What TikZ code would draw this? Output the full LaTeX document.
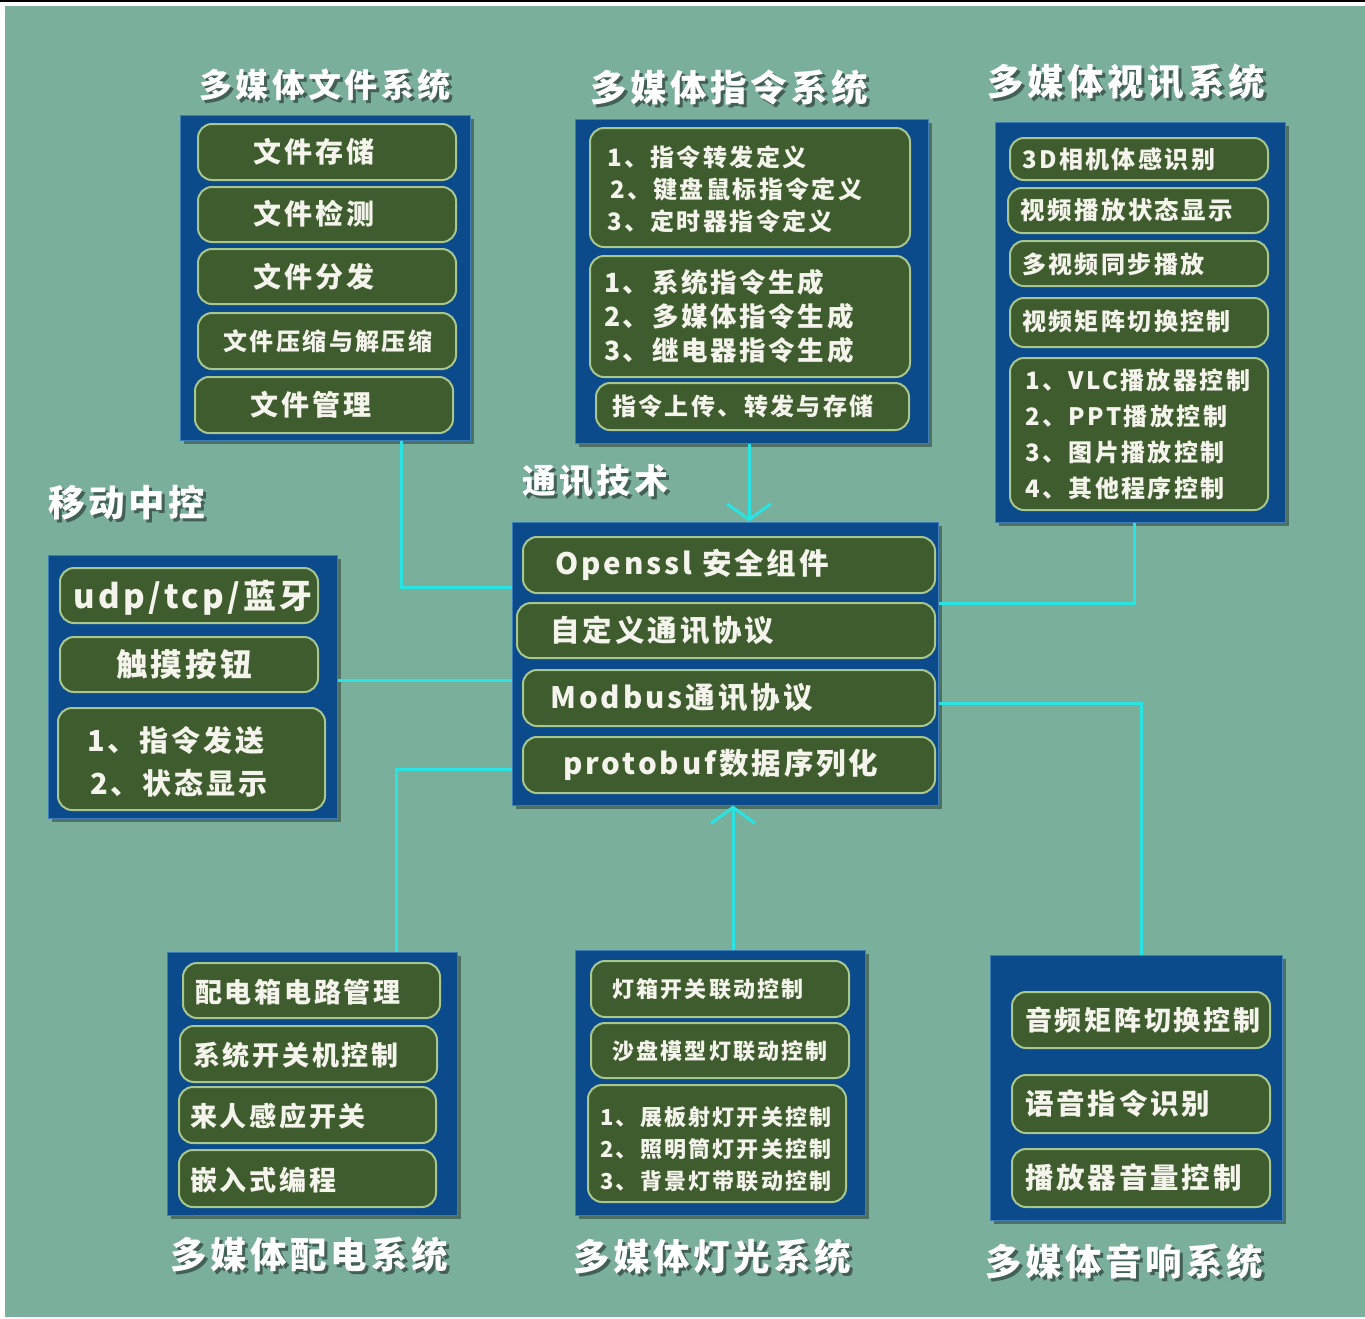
\documentclass[tikz,border=0pt]{standalone}
\usepackage{fontspec}
\setmainfont{Noto Sans CJK SC}[LetterSpace=10]
\usetikzlibrary{fit,arrows.meta,shadows}
\definecolor{bgg}{HTML}{7AAF9B}
\definecolor{panelc}{HTML}{0B4A8B}
\definecolor{panelb}{HTML}{3E7DB5}
\definecolor{itemg}{HTML}{3E5C2D}
\definecolor{itemb}{HTML}{A9C78C}
\definecolor{cyanl}{HTML}{2AE3E3}
\definecolor{txtw}{HTML}{F4F4EC}
\newcommand\myfs[2]{\fontsize{#1}{#2}\selectfont}
\tikzset{
  panel/.style={draw=panelb, line width=1pt, fill=panelc, inner sep=0pt,
    drop shadow={shadow xshift=4pt, shadow yshift=-4pt, fill=black, opacity=0.35}},
  itembox/.style={draw=itemb, line width=2pt, fill=itemg, rounded corners=14pt, inner sep=0pt},
  itxt/.style={text=txtw, inner sep=0pt, align=left},
  conn/.style={draw=cyanl, line width=3pt},
  tipped/.style={-{Straight Barb[length=16pt,width=44pt,line width=3pt]}},
}
% item box: name, x1, y1, x2, y2
\newcommand\ibox[5]{\node[itembox, fit={(#2,#3) (#4,#5)}] (#1) {};}
% title with shadow: name, anchor, x, y, size, text
\newcommand\ttl[6]{%
  \node[anchor=#2, inner sep=0pt, text=black, opacity=0.45, font=\bfseries\myfs{#5}{#5}] (#1s) at (#3+3,#4+3) {#6};
  \node[anchor=#2, inner sep=0pt, text=white, font=\bfseries\myfs{#5}{#5}] (#1) at (#3,#4) {#6};}
\begin{document}
\begin{tikzpicture}[x=1pt,y=-1pt]
\useasboundingbox (0,0) rectangle (1365,1318);
\fill[white] (0,0) rectangle (1365,1318);
\fill[black] (0,0) rectangle (1365,2);
\fill[bgg] (5,6) rectangle (1365,1317);

% ---------- panels ----------
\node[panel, fit={(180,115) (470,440)}] (filep) {};
\node[panel, fit={(575,119) (928,443)}] (instp) {};
\node[panel, fit={(995,122) (1285,522)}] (vidp) {};
\node[panel, fit={(512,522) (938,805)}] (comm) {};
\node[panel, fit={(48,555) (337,818)}] (mobp) {};
\node[panel, fit={(167,952) (457,1215)}] (powp) {};
\node[panel, fit={(575,950) (865,1215)}] (lightp) {};
\node[panel, fit={(990,955) (1282,1220)}] (audp) {};

% ---------- connectors ----------
\coordinate (k1) at (401,587);
\coordinate (k2) at (749,0);
\coordinate (k3) at (1134,603);
\coordinate (k4) at (0,680);
\coordinate (k5) at (396,769);
\coordinate (k6) at (733,0);
\coordinate (k7) at (1141,703);
\draw[conn] (filep.south -| k1) |- (comm.west |- k1);
\draw[conn, tipped] (instp.south -| k2) -- (comm.north -| k2);
\draw[conn] (vidp.south -| k3) |- (comm.east |- k3);
\draw[conn] (mobp.east |- k4) -- (comm.west |- k4);
\draw[conn] (comm.west |- k5) -| (powp.north -| k5);
\draw[conn, tipped] (lightp.north -| k6) -- (comm.south -| k6);
\draw[conn] (comm.east |- k7) -| (audp.north -| k7);

% ---------- file system ----------
\ibox{f1}{198}{124}{456}{180}
\ibox{f2}{198}{187}{456}{242}
\ibox{f3}{198}{249}{456}{304}
\ibox{f4}{198}{313}{456}{369}
\ibox{f5}{195}{377}{453}{433}
\node[itxt, font=\bfseries\myfs{28}{34}] (f1t) at (314,152) {文件存储};
\node[itxt, font=\bfseries\myfs{28}{34}] (f2t) at (314,214) {文件检测};
\node[itxt, font=\bfseries\myfs{28}{34}] (f3t) at (314,277) {文件分发};
\node[itxt, font=\bfseries\myfs{24}{30}] (f4t) at (328,341) {文件压缩与解压缩};
\node[itxt, font=\bfseries\myfs{28}{34}] (f5t) at (311,405) {文件管理};

% ---------- instruction system ----------
\ibox{i1}{590}{128}{910}{247}
\ibox{i2}{590}{256}{910}{377}
\ibox{i3}{596}{383}{909}{430}
\node[itxt, anchor=west, font=\bfseries\myfs{24}{32}] (i1t) at (607,189) {1、指令转发定义\\\hspace*{3pt}2、键盘鼠标指令定义\\3、定时器指令定义};
\node[itxt, anchor=west, font=\bfseries\myfs{26.5}{34}] (i2t) at (604,316) {1、系统指令生成\\2、多媒体指令生成\\3、继电器指令生成};
\node[itxt, anchor=west, font=\bfseries\myfs{24}{30}] (i3t) at (612,406) {指令上传、转发与存储};

% ---------- video system ----------
\ibox{v1}{1010}{138}{1268}{180}
\ibox{v2}{1008}{188}{1268}{233}
\ibox{v3}{1010}{241}{1268}{286}
\ibox{v4}{1010}{298}{1268}{347}
\ibox{v5}{1010}{358}{1268}{510}
\node[itxt, anchor=west, font=\bfseries\myfs{24}{28}] (v1t) at (1022,159) {3D相机体感识别};
\node[itxt, anchor=west, font=\bfseries\myfs{24.5}{28}] (v2t) at (1020,210) {视频播放状态显示};
\node[itxt, anchor=west, font=\bfseries\myfs{24}{28}] (v3t) at (1022,264) {多视频同步播放};
\node[itxt, anchor=west, font=\bfseries\myfs{24}{28}] (v4t) at (1022,321) {视频矩阵切换控制};
\node[itxt, anchor=west, font=\bfseries\myfs{24}{36}] (v5t) at (1025,434) {1、VLC播放器控制\\2、PPT播放控制\\3、图片播放控制\\4、其他程序控制};

% ---------- communication ----------
\ibox{c1}{523}{537}{935}{593}
\ibox{c2}{517}{603}{935}{658}
\ibox{c3}{523}{670}{935}{726}
\ibox{c4}{523}{737}{935}{793}
\node[itxt, anchor=west, font=\bfseries\myfs{29.5}{34}] (c1t) at (555,565) {Openssl 安全组件};
\node[itxt, anchor=west, font=\bfseries\myfs{29.5}{34}] (c2t) at (550,630) {自定义通讯协议};
\node[itxt, anchor=west, font=\bfseries\myfs{29.5}{34}] (c3t) at (550,698) {Modbus通讯协议};
\node[itxt, anchor=west, font=\bfseries\myfs{29.5}{34}] (c4t) at (563,765) {protobuf数据序列化};

% ---------- mobile control ----------
\ibox{m1}{60}{568}{318}{623}
\ibox{m2}{60}{637}{318}{692}
\ibox{m3}{58}{708}{325}{810}
\node[itxt, font=\bfseries\myfs{33}{36}] (m1t) at (193,598) {udp/tcp/蓝牙};
\node[itxt, font=\bfseries\myfs{31.5}{36}] (m2t) at (184,664) {触摸按钮};
\node[itxt, anchor=west, font=\bfseries\myfs{29}{43}] (m3t) at (87,762) {1、指令发送\\\hspace*{3pt}2、状态显示};

% ---------- power ----------
\ibox{p1}{183}{963}{440}{1018}
\ibox{p2}{180}{1026}{437}{1082}
\ibox{p3}{179}{1087}{436}{1143}
\ibox{p4}{179}{1150}{436}{1207}
\node[itxt, anchor=west, font=\bfseries\myfs{27}{32}] (p1t) at (195,992) {配电箱电路管理};
\node[itxt, anchor=west, font=\bfseries\myfs{27}{32}] (p2t) at (193,1055) {系统开关机控制};
\node[itxt, anchor=west, font=\bfseries\myfs{27}{32}] (p3t) at (190,1116) {来人感应开关};
\node[itxt, anchor=west, font=\bfseries\myfs{27}{32}] (p4t) at (190,1180) {嵌入式编程};

% ---------- lighting ----------
\ibox{l1}{591}{961}{849}{1017}
\ibox{l2}{591}{1023}{849}{1078}
\ibox{l3}{588}{1085}{846}{1202}
\node[itxt, anchor=west, font=\bfseries\myfs{22}{28}] (l1t) at (612,989) {灯箱开关联动控制};
\node[itxt, anchor=west, font=\bfseries\myfs{22}{28}] (l2t) at (612,1051) {沙盘模型灯联动控制};
\node[itxt, anchor=west, font=\bfseries\myfs{22}{32}] (l3t) at (600,1149) {1、展板射灯开关控制\\2、照明筒灯开关控制\\3、背景灯带联动控制};

% ---------- audio ----------
\ibox{a1}{1012}{992}{1270}{1048}
\ibox{a2}{1012}{1075}{1270}{1133}
\ibox{a3}{1012}{1149}{1270}{1207}
\node[itxt, anchor=west, font=\bfseries\myfs{27}{32}] (a1t) at (1025,1020) {音频矩阵切换控制};
\node[itxt, anchor=west, font=\bfseries\myfs{28.5}{34}] (a2t) at (1025,1104) {语音指令识别};
\node[itxt, anchor=west, font=\bfseries\myfs{28.5}{34}] (a3t) at (1025,1178) {播放器音量控制};

% ---------- titles ----------
\ttl{tfile}{center}{325}{85}{33}{多媒体文件系统}
\ttl{tinst}{center}{729}{88}{36.5}{多媒体指令系统}
\ttl{tvid}{center}{1126}{82}{36.5}{多媒体视讯系统}
\ttl{tcomm}{west}{522}{481}{34}{通讯技术}
\ttl{tmob}{west}{48}{503}{36.5}{移动中控}
\ttl{tpow}{center}{309}{1255}{36.5}{多媒体配电系统}
\ttl{tlight}{center}{712}{1257}{36.5}{多媒体灯光系统}
\ttl{taud}{center}{1124}{1262}{36.5}{多媒体音响系统}
\end{tikzpicture}
\end{document}
